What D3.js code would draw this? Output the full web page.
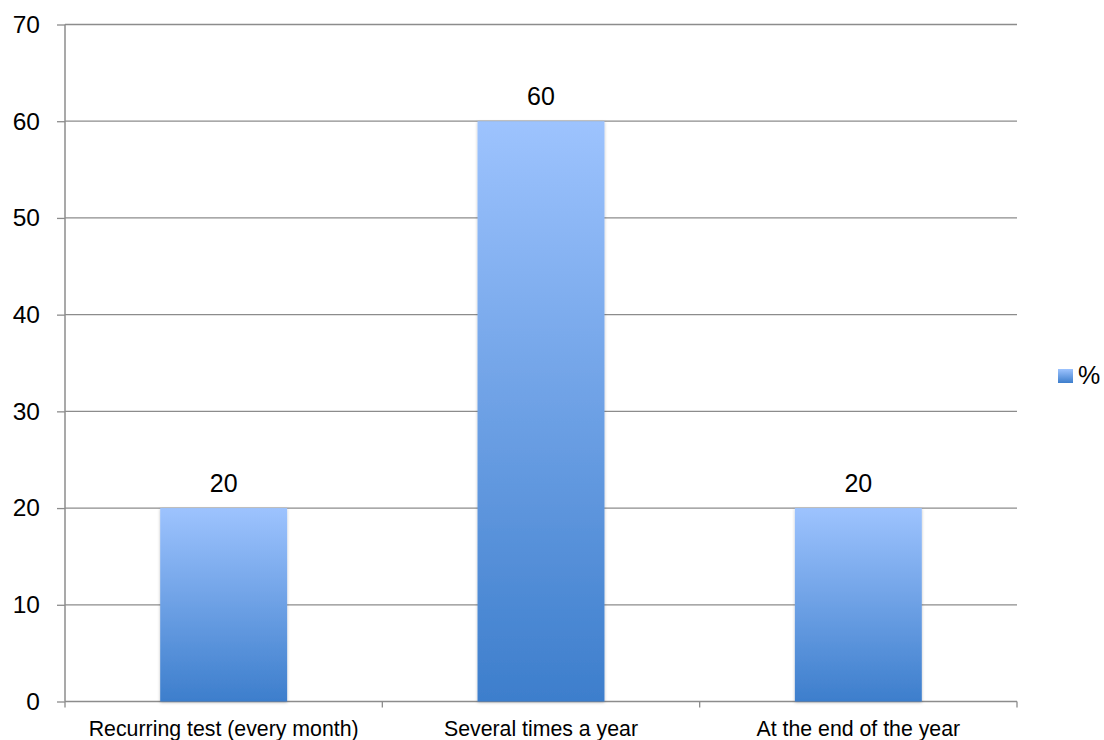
<!DOCTYPE html>
<html><head><meta charset="utf-8">
<script src="https://cdn.jsdelivr.net/npm/d3@7"></script>
<style>body{margin:0;background:#fff;} text{font-family:"Liberation Sans",Arial,sans-serif;}</style>
</head><body>
<svg id="c" width="1104" height="740"></svg>
<script>
const categories = ["Recurring test (every month)", "Several times a year", "At the end of the year"];
const values = [20, 60, 20];
const seriesName = "%";
const yTicks = [0, 10, 20, 30, 40, 50, 60, 70];

const svg = d3.select("#c");
const m = {left: 65, right: 1017, top: 24.5, bottom: 701.5};
const x = d3.scaleBand().domain(categories).range([m.left, m.right]).paddingInner(0.6).paddingOuter(0.3);
const y = d3.scaleLinear().domain([0, 70]).range([m.bottom, m.top]);

const defs = svg.append("defs");
const g = defs.append("linearGradient").attr("id", "bg").attr("x1", 0).attr("y1", 0).attr("x2", 0).attr("y2", 1);
g.append("stop").attr("offset", "0%").attr("stop-color", "#9dc3fe");
g.append("stop").attr("offset", "100%").attr("stop-color", "#3d7ecc");
const f = defs.append("filter").attr("id", "sh").attr("x", "-10%").attr("y", "-10%").attr("width", "120%").attr("height", "120%");
f.append("feDropShadow").attr("dx", 0).attr("dy", 1).attr("stdDeviation", 1.5).attr("flood-color", "#000").attr("flood-opacity", 0.25);

// gridlines
svg.append("g").selectAll("line").data(yTicks.filter(d => d > 0)).join("line")
  .attr("x1", m.left).attr("x2", m.right).attr("y1", d => y(d)).attr("y2", d => y(d))
  .attr("stroke", "#8c8c8c").attr("stroke-width", 1.3);

// y axis
const ya = svg.append("g").attr("transform", `translate(${m.left},0)`)
  .call(d3.axisLeft(y).tickValues(yTicks).tickSize(8).tickPadding(17).tickFormat(d3.format("d")));
ya.select(".domain").attr("stroke", "#8c8c8c").attr("stroke-width", 1.5).attr("d", `M0,${m.top}V${m.bottom}`);
ya.selectAll(".tick line").attr("stroke", "#8c8c8c").attr("stroke-width", 1.3);
ya.selectAll(".tick text").attr("font-size", 24.5).attr("fill", "#000").attr("font-family", "Liberation Sans, Arial, sans-serif");

// x axis
const xa = svg.append("g").attr("transform", `translate(0,${m.bottom})`)
  .call(d3.axisBottom(x).tickSize(0).tickPadding(19));
xa.select(".domain").attr("stroke", "#8c8c8c").attr("stroke-width", 1.5).attr("d", `M${m.left},0H${m.right}`);
xa.selectAll(".tick text").attr("font-size", 21.3).attr("fill", "#000").attr("font-family", "Liberation Sans, Arial, sans-serif");
const step = x.step();
const bounds = d3.range(categories.length + 1).map(i => m.left + i * step);
xa.append("g").selectAll("line").data(bounds).join("line")
  .attr("x1", d => d).attr("x2", d => d).attr("y1", 0).attr("y2", 6)
  .attr("stroke", "#8c8c8c").attr("stroke-width", 1.3);

// bars
svg.append("g").selectAll("rect").data(values).join("rect")
  .attr("x", (d, i) => x(categories[i])).attr("width", x.bandwidth())
  .attr("y", d => y(d)).attr("height", d => y(0) - y(d))
  .attr("fill", "url(#bg)").attr("filter", "url(#sh)");

// labels
svg.append("g").selectAll("text").data(values).join("text")
  .attr("x", (d, i) => x(categories[i]) + x.bandwidth() / 2).attr("y", d => y(d) - 16.5)
  .attr("text-anchor", "middle").attr("font-size", 25).attr("fill", "#000").text(d => d);

// legend
const lg = svg.append("g").attr("transform", "translate(1058,369)");
lg.append("rect").attr("width", 15).attr("height", 14).attr("fill", "url(#bg)");
lg.append("text").attr("x", 20).attr("y", 15).attr("font-size", 25).attr("fill", "#000").text(seriesName);
</script>
</body></html>
